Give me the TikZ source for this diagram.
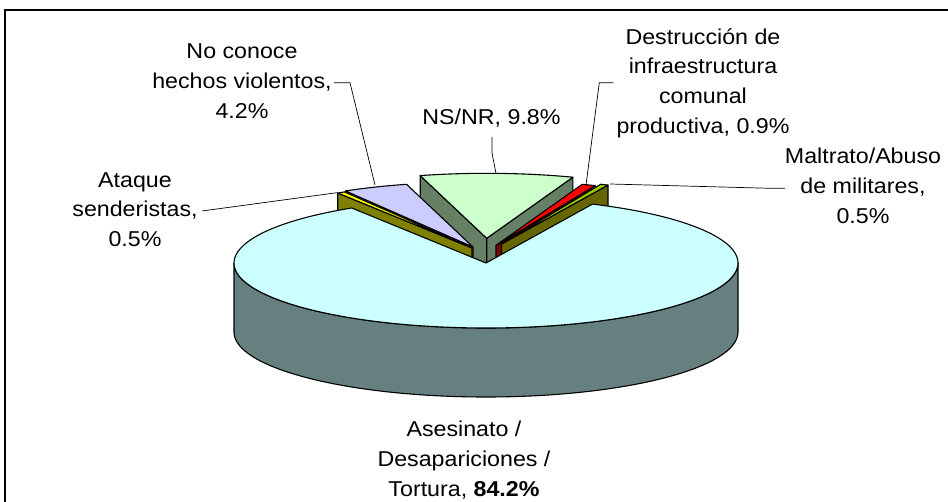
\documentclass[tikz,border=0pt]{standalone}
\usepackage{fontspec}
\setmainfont{Liberation Sans}[FakeStretch=1.08]
\definecolor{mainTop}{HTML}{CCFFFF}
\definecolor{mainSide}{HTML}{668080}
\definecolor{nsTop}{HTML}{CCFFCC}
\definecolor{nsSide}{HTML}{668066}
\definecolor{ncTop}{HTML}{CCCCFF}
\definecolor{ncSide}{HTML}{666680}
\definecolor{atTop}{HTML}{FFFF00}
\definecolor{atSide}{HTML}{808000}
\definecolor{deTop}{HTML}{FF0000}
\definecolor{deSide}{HTML}{800000}
\definecolor{maTop}{HTML}{99CC00}
\definecolor{maSide}{HTML}{666600}
\begin{document}
\begin{tikzpicture}[x=1pt,y=1pt,
  pieline/.style={draw=black,line width=1.1pt,line join=round},
  leader/.style={draw=black,line width=0.7pt},
  lbl/.style={font=\fontsize{21.5}{29.7}\selectfont,align=center,inner sep=0pt,anchor=base}]
\useasboundingbox (0,0) rectangle (948,-502);
% frame
\draw[line width=2pt] (5,-503) -- (5,-10) -- (949,-10);
% NS/NR slice
\begin{scope}[shift={(486.7,-238.3)}]
  \filldraw[pieline,fill=nsSide] (0,0) -- ({252*cos(105.3)},{65*sin(105.3)}) -- ++(0,-69) -- (0,-69) -- cycle;
  \filldraw[pieline,fill=nsSide] (0,0) -- ({252*cos(70)},{65*sin(70)}) -- ++(0,-69) -- (0,-69) -- cycle;
  \filldraw[pieline,fill=nsTop] (0,0) -- ({252*cos(70)},{65*sin(70)}) arc[start angle=70,end angle=105.3,x radius=252,y radius=65] -- cycle;
\end{scope}
% No conoce slice
\begin{scope}[shift={(473,-247)}]
  \filldraw[pieline,fill=ncSide] (0,0) -- ({252*cos(120.4)},{65*sin(120.4)}) -- ++(0,-69) -- (0,-69) -- cycle;
  \filldraw[pieline,fill=ncTop] (0,0) -- ({252*cos(105.3)},{65*sin(105.3)}) arc[start angle=105.3,end angle=120.4,x radius=252,y radius=65] -- cycle;
\end{scope}
% Ataque slice
\begin{scope}[shift={(472,-248)}]
  \filldraw[pieline,fill=atSide] (0,0) -- ({252*cos(122.2)},{65*sin(122.2)}) -- ++(0,-69) -- (0,-69) -- cycle;
  \filldraw[pieline,fill=atTop] (0,0) -- ({252*cos(120.4)},{65*sin(120.4)}) arc[start angle=120.4,end angle=122.2,x radius=252,y radius=65] -- cycle;
\end{scope}
% Destruccion slice
\begin{scope}[shift={(496,-245.4)}]
  \filldraw[pieline,fill=deSide] (0,0) -- ({252*cos(66.8)},{65*sin(66.8)}) -- ++(0,-69) -- (0,-69) -- cycle;
  \filldraw[pieline,fill=deTop] (0,0) -- ({252*cos(66.8)},{65*sin(66.8)}) arc[start angle=66.8,end angle=70,x radius=252,y radius=65] -- cycle;
\end{scope}
% Maltrato slice
\begin{scope}[shift={(501.5,-244)}]
  \filldraw[pieline,fill=maSide] (0,0) -- ({252*cos(65)},{65*sin(65)}) -- ++(0,-69) -- (0,-69) -- cycle;
  \filldraw[pieline,fill=maTop] (0,0) -- ({252*cos(65)},{65*sin(65)}) arc[start angle=65,end angle=66.8,x radius=252,y radius=65] -- cycle;
\end{scope}
% Main slice
\begin{scope}[shift={(486,-263)}]
  \filldraw[pieline,fill=mainSide] (-252,0) arc[start angle=180,end angle=360,x radius=252,y radius=65] -- ++(0,-69) arc[start angle=360,end angle=180,x radius=252,y radius=65] -- cycle;
  \filldraw[pieline,fill=mainTop] (0,0) -- ({252*cos(122.2)},{65*sin(122.2)}) arc[start angle=122.2,end angle=425,x radius=252,y radius=65] -- cycle;
\end{scope}
% labels (anchor base = baseline of the last line)
\node[lbl] (lblNC) at (242,-118.3) {No conoce\\hechos violentos,\\4.2\%};
\node[lbl] (lblAT) at (135,-246.7) {Ataque\\senderistas,\\0.5\%};
\node[lbl] (lblNS) at (491.5,-125) {NS/NR, 9.8\%};
\node[lbl] (lblDE) at (703,-133.3) {Destrucción de\\infraestructura\\comunal\\productiva, 0.9\%};
\node[lbl] (lblMA) at (863,-223.3) {Maltrato/Abuso\\de militares,\\0.5\%};
\node[lbl] (lblAS) at (464,-496) {Asesinato /\\Desapariciones /\\Tortura, \textbf{84.2\%}};
% leader coordinates
\coordinate (ncA) at (334,-82.7);
\coordinate (ncB) at (350,-82.7);
\coordinate (ncTip) at (375,-185);
\coordinate (nsA) at (492,-137);
\coordinate (nsB) at (492,-153);
\coordinate (nsTip) at (496,-173.3);
\coordinate (atA) at (202,-211);
\coordinate (atTip) at (337,-192.7);
\coordinate (deA) at (613.3,-82.7);
\coordinate (deB) at (599.3,-82.7);
\coordinate (deTip) at (586,-185);
\coordinate (maA) at (785,-188.3);
\coordinate (maB) at (770,-188.3);
\coordinate (maTip) at (610,-184);
\draw[leader] (ncA) -- (ncB) -- (ncTip);
\draw[leader] (nsA) -- (nsB) -- (nsTip);
\draw[leader] (atA) -- (atTip);
\draw[leader] (deA) -- (deB) -- (deTip);
\draw[leader] (maA) -- (maB) -- (maTip);
\end{tikzpicture}
\end{document}
